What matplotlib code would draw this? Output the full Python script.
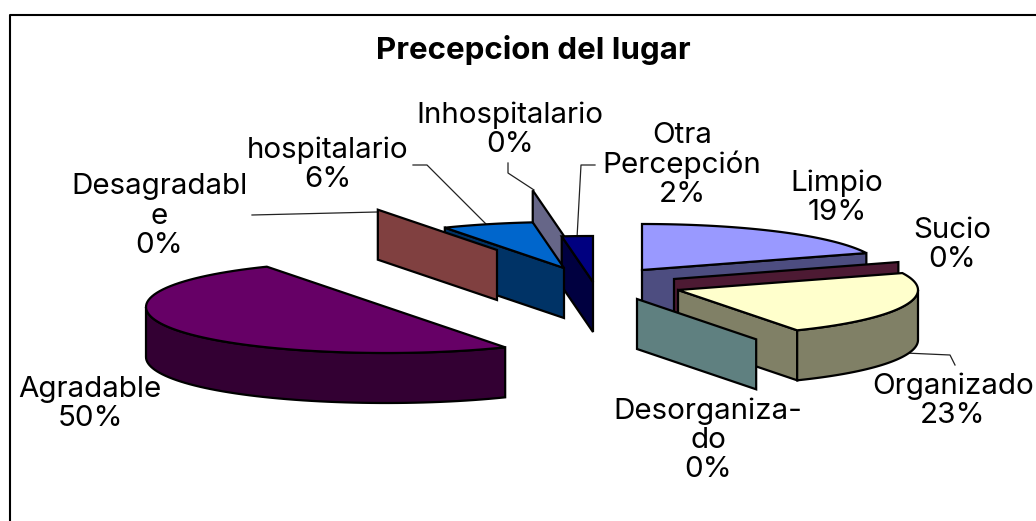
import numpy as np
import matplotlib.pyplot as plt
from matplotlib.patches import Polygon

plt.rcParams['font.family'] = ['Inter', 'Liberation Sans', 'DejaVu Sans']

title = "Precepcion del lugar"
categories = ["Limpio", "Sucio", "Organizado", "Desorganizado", "Agradable",
              "Desagradable", "hospitalario", "Inhospitalario", "Otra Percepción"]
percent = [19, 0, 23, 0, 50, 0, 6, 0, 2]
label_texts = ["Limpio", "Sucio", "Organizado", "Desorganiza-\ndo", "Agradable",
               "Desagradabl\ne", "hospitalario", "Inhospitalario", "Otra\nPercepción"]

# layout, all in pixels of the picture
RX, RY, DEPTH = 240, 46, 50
apex = [(642, 270), (674, 279), (678, 290), (637, 299), (386, 307),
        (497, 250), (564, 268), (564, 236), (593, 282)]
label_pos = [(837, 198), (952, 245), (953, 401), (708, 440), (90, 404),
             (159, 216), (328, 165), (510, 130), (682, 165)]
top_col = ['#9999ff', '#4d1a33', '#ffffcc', '#5f8080', '#660066',
           '#804040', '#0066cc', '#666688', '#000080']
wall_col = ['#4d4d80', '#4d1a33', '#808066', '#5f8080', '#330033',
            '#804040', '#003366', '#666688', '#000040']
draw_order = [4, 0, 7, 8, 6, 5, 1, 2, 3]
leaders = [[(252, 215), (377, 212)],
           [(413, 165), (427, 165), (486, 224)],
           [(508, 163), (508, 173), (534, 190)],
           [(595, 165), (581, 165), (577, 238)],
           [(905, 353), (950, 355), (955, 365)]]

FONT = 21.3
LW = 1.6


def rim(c, t):
    t = np.radians(t)
    # the pie in the picture is a bit wider than a plain ellipse near front and back
    return c[0] + RX * np.sin(t) * (1 + 0.04 * np.cos(t) ** 2), c[1] - RY * np.cos(t)


def radial_wall(ax, c, t, col, z):
    x, y = rim(c, t)
    pts = [c, (x, y), (x, y + DEPTH), (c[0], c[1] + DEPTH)]
    ax.add_patch(Polygon(pts, closed=True, fc=col, ec='black', lw=LW, zorder=z))


def draw_slice(ax, i, t0, t1, z):
    c = apex[i]
    # walls facing the viewer
    if 0 < t1 < 180:
        radial_wall(ax, c, t1, wall_col[i], z)
    if 180 < t0 < 360:
        radial_wall(ax, c, t0, wall_col[i], z)
    a, b = max(t0, 90), min(t1, 270)
    if a < b:
        ts = np.linspace(a, b, 60)
        xs, ys = rim(c, ts)
        pts = list(zip(xs, ys)) + list(zip(xs[::-1], ys[::-1] + DEPTH))
        ax.add_patch(Polygon(pts, closed=True, fc=wall_col[i], ec='black', lw=LW, zorder=z))
    if t1 > t0:
        ts = np.linspace(t0, t1, 80)
        xs, ys = rim(c, ts)
        pts = [c] + list(zip(xs, ys))
        ax.add_patch(Polygon(pts, closed=True, fc=top_col[i], ec='black', lw=LW, zorder=z + 0.5))


fig = plt.figure(figsize=(10.36, 5.21), dpi=100)
ax = fig.add_axes([0, 0, 1, 1])
ax.set_xlim(0, 1036)
ax.set_ylim(521, 0)
ax.axis('off')

# chart frame, cut off at right and bottom
ax.plot([10, 10, 1036], [521, 15, 15], color='black', lw=1.5, zorder=1)

bounds = np.cumsum([0] + percent) * 3.6
for z, i in enumerate(draw_order):
    draw_slice(ax, i, bounds[i], bounds[i + 1], 2 + z)

for pts in leaders:
    xs, ys = zip(*pts)
    ax.plot(xs, ys, color='#222222', lw=0.9, zorder=1.5)

ax.text(533, 50, title, ha='center', va='center', fontsize=22.5, fontweight='bold')
for txt, p, (x, y) in zip(label_texts, percent, label_pos):
    ax.text(x, y, f"{txt}\n{p}%", ha='center', va='center', fontsize=FONT,
            linespacing=1.1, color='black', zorder=20)

fig.savefig('out.png', dpi=100)
